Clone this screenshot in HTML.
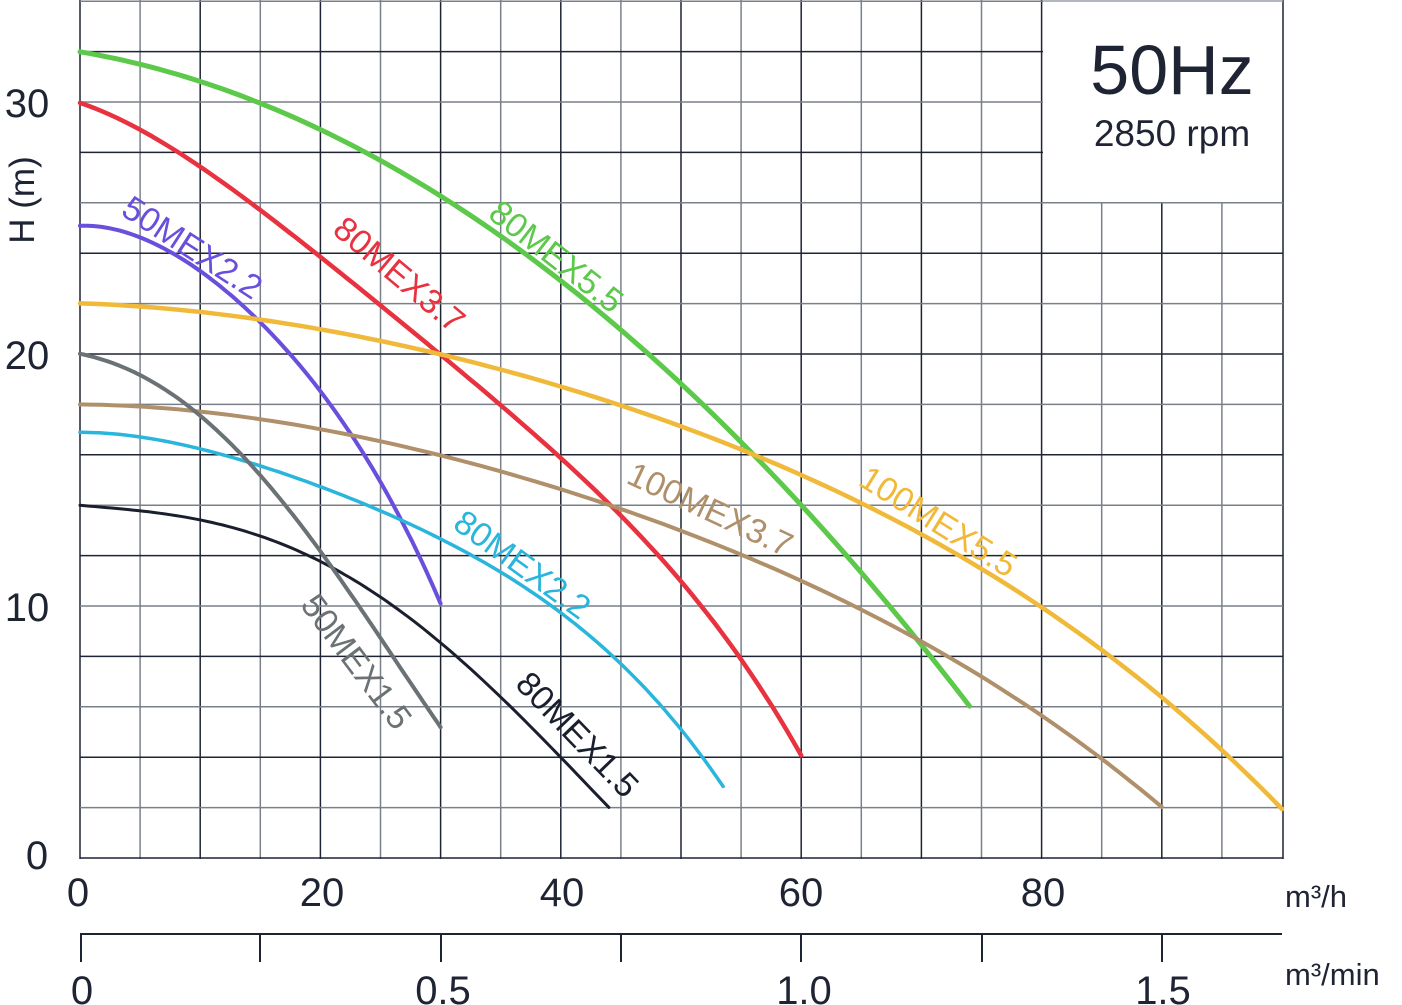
<!DOCTYPE html>
<html><head><meta charset="utf-8"><style>
html,body{margin:0;padding:0;background:#fff;}
svg{display:block;font-family:"Liberation Sans",sans-serif;}
</style></head><body>
<svg id="s" width="1402" height="1005" viewBox="0 0 1402 1005" xmlns="http://www.w3.org/2000/svg">
<g id="grid"></g>
<rect x="1044" y="2" width="238" height="199" fill="#fff" stroke="none"/>
<text x="1172" y="94" font-size="70" fill="#1e2433" text-anchor="middle">50Hz</text>
<text x="1172" y="146" font-size="37" fill="#1e2433" text-anchor="middle">2850 rpm</text>
<g id="curves"></g>
<g font-size="40" fill="#1e2433">
<text x="27" y="117" text-anchor="middle">30</text>
<text x="27" y="369" text-anchor="middle">20</text>
<text x="27" y="621" text-anchor="middle">10</text>
<text x="37" y="869" text-anchor="middle">0</text>
<text transform="translate(34,200) rotate(-90)" text-anchor="middle" font-size="35">H (m)</text>
<text x="78" y="906" text-anchor="middle">0</text>
<text x="322" y="906" text-anchor="middle">20</text>
<text x="562" y="906" text-anchor="middle">40</text>
<text x="801" y="906" text-anchor="middle">60</text>
<text x="1043" y="906" text-anchor="middle">80</text>
<text x="82" y="1004" text-anchor="middle">0</text>
<text x="443" y="1004" text-anchor="middle">0.5</text>
<text x="804" y="1004" text-anchor="middle">1.0</text>
<text x="1163" y="1004" text-anchor="middle">1.5</text>
<text x="1285" y="907" font-size="31">m³/h</text>
<text x="1285" y="985" font-size="31">m³/min</text>
</g>
<g stroke="#1e2433" stroke-width="2">
<line x1="80" y1="934" x2="1282" y2="934"/>
<line x1="81" y1="934" x2="81" y2="962"/>
<line x1="260" y1="934" x2="260" y2="962"/>
<line x1="441" y1="934" x2="441" y2="962"/>
<line x1="621" y1="934" x2="621" y2="962"/>
<line x1="801" y1="934" x2="801" y2="962"/>
<line x1="982" y1="934" x2="982" y2="962"/>
<line x1="1162" y1="934" x2="1162" y2="962"/>
</g>
<g font-size="34" text-anchor="middle" dominant-baseline="central">
<text transform="translate(192,248) rotate(33)" fill="#6a4fdc">50MEX2.2</text>
<text transform="translate(399,275) rotate(40)" fill="#e8323f">80MEX3.7</text>
<text transform="translate(556,257) rotate(38)" fill="#5cc94a">80MEX5.5</text>
<text transform="translate(710,510) rotate(25)" fill="#b0906a">100MEX3.7</text>
<text transform="translate(938,522) rotate(32)" fill="#f0b93a">100MEX5.5</text>
<text transform="translate(522,565) rotate(36)" fill="#2ab5dc">80MEX2.2</text>
<text transform="translate(356,662) rotate(53)" fill="#6b7275">50MEX1.5</text>
<text transform="translate(577,735) rotate(46)" fill="#1a1f2e">80MEX1.5</text>
</g>
</svg>
<script>
function X(q){return 80+12.02*q;} function Y(h){return 858-25.2*h;}
var g=document.getElementById('grid'),s="";
for(var i=0;i<=20;i++){var x=80+60.1*i;if(i==20)x=1283;var y1=(x>1044&&x<1282)?202:0;s+='<line x1="'+x+'" y1="'+y1+'" x2="'+x+'" y2="859" stroke="'+(i%2?'#7a808a':'#1e2433')+'" stroke-width="1.5"/>';}
for(var j=0;j<=17;j++){var y=858-50.4*j;if(y<0)y=1;var x2=(y<202)?1043:1283;s+='<line x1="80" y1="'+y+'" x2="'+x2+'" y2="'+y+'" stroke="'+(j%2?'#7a808a':'#1e2433')+'" stroke-width="1.5"/>';}
s+='<line x1="1043" y1="1" x2="1283" y2="1" stroke="#9aa0a8" stroke-width="1.5"/>';
g.innerHTML=s;
var C=[
["#5cc94a",5,[[0,32],[10,30.8],[20,28.9],[30,26.3],[40,22.9],[50,18.8],[60,14],[70,8.5],[74,6]]],
["#e8323f",4.5,[[0,30],[10,27.3],[20,24],[30,20],[40,15.7],[45,13.6],[50,11],[55,8],[60,4]]],
["#6a4fdc",4,[[0,25.1],[5,24.6],[10,23.3],[15,21.3],[20,18.5],[25,14.8],[28,12.4],[30,10]]],
["#f0b93a",4.5,[[0,22],[20,21],[30,20],[45,17.9],[60,15.2],[80,10.1],[90,6.2],[100,2]]],
["#b0906a",4,[[0,18],[20,17],[30,16],[44,14],[60,11],[70,8.6],[80,5.6],[85,4],[90,2]]],
["#2ab5dc",3.5,[[0,16.9],[10,16.2],[20,14.8],[30,12.6],[40,9.8],[45,7.6],[50,5.2],[53.5,2.8]]],
["#1a1f2e",3,[[0,14],[10,13.4],[20,11.8],[30,8.5],[38,5],[44,2]]],
["#6b7275",4,[[0,20],[5,19.2],[10,17.5],[15,15.2],[20,12.2],[25,8.7],[30,5.2]]]
];
function fit(pts,deg){var n=deg+1,A=[],b=[];for(var i=0;i<n;i++){A.push(new Array(n).fill(0));b.push(0);}
var qm=pts[pts.length-1][0];
pts.forEach(function(p){var t=p[0]/qm;for(var i=0;i<n;i++){b[i]+=Math.pow(t,i)*p[1];for(var j=0;j<n;j++)A[i][j]+=Math.pow(t,i+j);}});
for(var i=0;i<n;i++){var m=i;for(var k=i+1;k<n;k++)if(Math.abs(A[k][i])>Math.abs(A[m][i]))m=k;var t1=A[i];A[i]=A[m];A[m]=t1;var t2=b[i];b[i]=b[m];b[m]=t2;
for(var k=0;k<n;k++){if(k==i)continue;var f=A[k][i]/A[i][i];for(var j=i;j<n;j++)A[k][j]-=f*A[i][j];b[k]-=f*b[i];}}
var c=b.map(function(v,i){return v/A[i][i];});
return function(q){var t=q/qm,r=0;for(var i=0;i<n;i++)r+=c[i]*Math.pow(t,i);return r;};}
var cg=document.getElementById('curves'),o="";
C.forEach(function(c){var f=fit(c[2],4),qm=c[2][c[2].length-1][0],d="";
for(var k=0;k<=100;k++){var q=qm*k/100;d+=(k?"L":"M")+X(q).toFixed(1)+","+Y(f(q)).toFixed(1);}
o+='<path d="'+d+'" fill="none" stroke="'+c[0]+'" stroke-width="'+c[1]+'" stroke-linecap="round" stroke-linejoin="round"/>';});
cg.innerHTML=o;
</script>
</body></html>
